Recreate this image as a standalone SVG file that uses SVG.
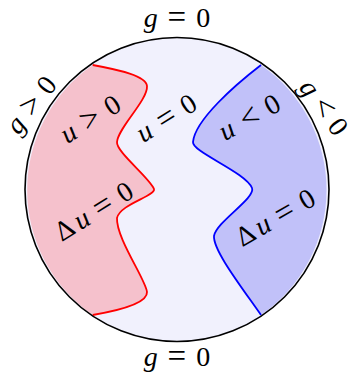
<svg xmlns="http://www.w3.org/2000/svg" width="354" height="373" viewBox="0 0 354 373">
<style>
text{font-family:"Liberation Serif","Times New Roman",serif;font-size:28px;fill:#000;text-anchor:middle}
.v{font-style:italic}
.r{font-size:33px}
.red{fill:none;stroke:#ff0000;stroke-width:1.8}
.blue{fill:none;stroke:#0000ff;stroke-width:1.8}
</style>
<rect width="354" height="373" fill="#ffffff"/>
<g id="domain">
<circle cx="177" cy="189.5" r="152" fill="#f1f1fd"/>
</g>
<g id="region-positive">
<path d="M92.7,65 C120,70 146,76 147,86 C148,100 118,128 117,142 C116,152 150,178 154,189 C156,196 120,204 117,218 C116,238 146,280 147,292 C148,305 110,312 92.7,315 A152,152 0 0 1 92.7,65 Z" fill="#f5c1cc"/>
</g>
<g id="region-negative">
<path d="M261,65 C235,85 195,120 193,142 C192,152 245,172 252,188 C256,198 216,222 214,236 C213,250 240,285 261,315 A152,152 0 0 0 261,65 Z" fill="#c1c1f9"/>
</g>
<g id="interfaces">
<path class="red" d="M92.7,65 C120,70 146,76 147,86 C148,100 118,128 117,142 C116,152 150,178 154,189 C156,196 120,204 117,218 C116,238 146,280 147,292 C148,305 110,312 92.7,315"/>
<path class="blue" d="M261,65 C235,85 195,120 193,142 C192,152 245,172 252,188 C256,198 216,222 214,236 C213,250 240,285 261,315"/>
</g>
<g id="boundary">
<circle cx="177" cy="189.5" r="152" fill="none" stroke="#000" stroke-width="1.6"/>
</g>
<g id="labels">
<text y="27"><tspan class="v" x="150.7">g</tspan><tspan class="r" x="176.7" dy="1">=</tspan><tspan x="203.3" dy="-1">0</tspan></text>
<text y="365.5"><tspan class="v" x="150.7">g</tspan><tspan class="r" x="176.7" dy="1">=</tspan><tspan x="203.3" dy="-1">0</tspan></text>
<text transform="translate(32,105.5) rotate(-52)" y="8"><tspan class="v" x="-25">g</tspan><tspan class="r" x="0" dy="1">&gt;</tspan><tspan x="25" dy="-1">0</tspan></text>
<text transform="translate(323,108) rotate(54)" y="8"><tspan class="v" x="-24">g</tspan><tspan class="r" x="0" dy="1">&lt;</tspan><tspan x="24" dy="-1">0</tspan></text>
<text transform="translate(91,120) rotate(-32)" y="8"><tspan class="v" x="-26">u</tspan><tspan class="r" x="0" dy="1">&gt;</tspan><tspan x="26" dy="-1">0</tspan></text>
<text transform="translate(167,119) rotate(-32)" y="8"><tspan class="v" x="-26">u</tspan><tspan class="r" x="0" dy="1">=</tspan><tspan x="26" dy="-1">0</tspan></text>
<text transform="translate(250,118.3) rotate(-29)" y="8"><tspan class="v" x="-26">u</tspan><tspan class="r" x="0" dy="1">&lt;</tspan><tspan x="26" dy="-1">0</tspan></text>
<text transform="translate(103.3,206.7) rotate(-32)" y="8"><tspan x="-45">Δ</tspan><tspan class="v" x="-25">u</tspan><tspan class="r" x="0" dy="1">=</tspan><tspan x="26" dy="-1">0</tspan></text>
<text transform="translate(285,213.3) rotate(-30)" y="8"><tspan x="-45">Δ</tspan><tspan class="v" x="-25">u</tspan><tspan class="r" x="0" dy="1">=</tspan><tspan x="26" dy="-1">0</tspan></text>
</g>
</svg>
